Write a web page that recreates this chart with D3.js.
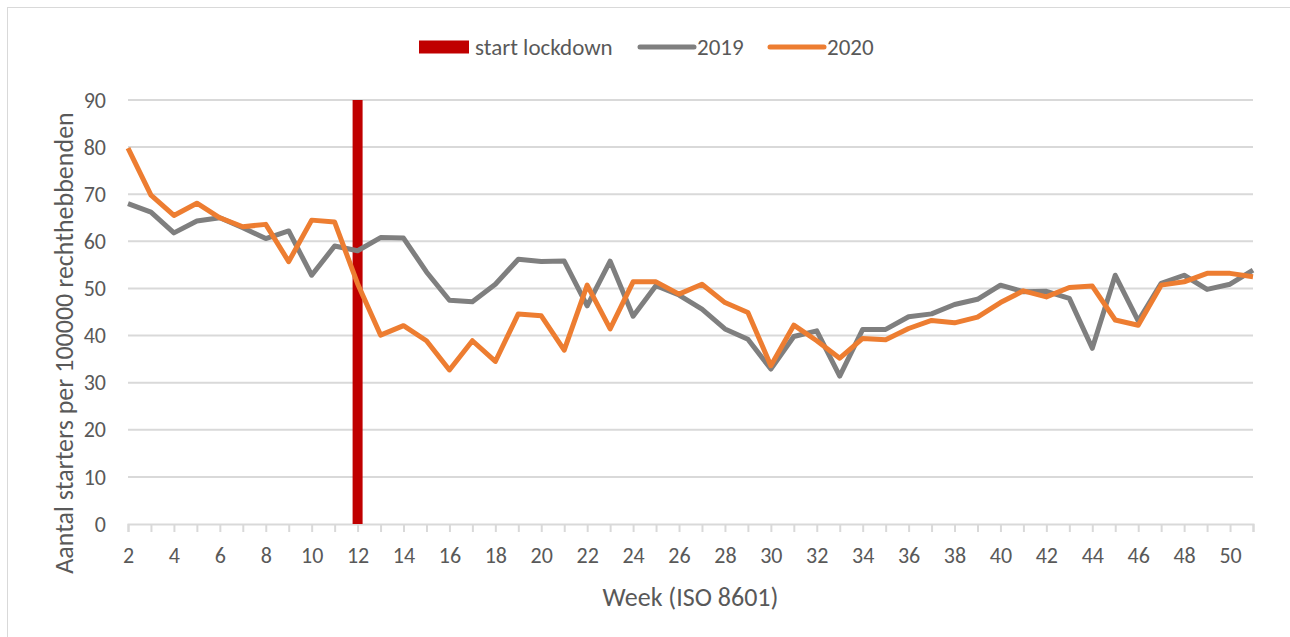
<!DOCTYPE html>
<html>
<head>
<meta charset="utf-8">
<script src="https://cdn.jsdelivr.net/npm/d3@7"></script>
<style>
  body { margin: 0; background: #fff; }
  text { font-family: Carlito, Lato, "Open Sans", sans-serif; fill: #595959; }
</style>
</head>
<body>
<script>
 // weeks (ISO 8601)
 const weeks = d3.range(2, 52)
 // starters per 100000 rechthebbenden
 const vals2019 = [68.0, 66.2, 61.8, 64.3, 65.0, 62.9, 60.6, 62.2, 52.8, 59.0,
                   58.0, 60.8, 60.7, 53.5, 47.5, 47.2, 50.9, 56.2, 55.7, 55.8,
                   46.3, 55.8, 44.1, 50.6, 48.6, 45.6, 41.4, 39.2, 32.9, 39.8,
                   41.0, 31.4, 41.3, 41.3, 44.0, 44.6, 46.6, 47.7, 50.7, 49.3,
                   49.4, 47.9, 37.3, 52.8, 43.1, 51.1, 52.8, 49.8, 50.9, 53.9]
 const vals2020 = [79.8, 69.8, 65.5, 68.1, 65.0, 63.1, 63.6, 55.7, 64.5, 64.1,
                   51.0, 40.1, 42.1, 38.9, 32.7, 38.9, 34.5, 44.6, 44.2, 36.9,
                   50.7, 41.4, 51.4, 51.4, 48.8, 50.9, 47.0, 44.9, 33.6, 42.2,
                   38.9, 35.2, 39.4, 39.1, 41.5, 43.2, 42.7, 43.9, 47.0, 49.5,
                   48.2, 50.2, 50.5, 43.3, 42.2, 50.7, 51.4, 53.2, 53.2, 52.5]
 const lockdownWeek = 12
 const yTicks = d3.range(0, 100, 10)
 const seriesNames = ['2019', '2020']
 const seriesColors = ['#7f7f7f', '#ed7d31']

 // constants
 const width = 1290;
 const height = 637;
 const margin = { top: 100, bottom: 113, left: 128, right: 37 };

 const svg = d3.select('body').append('svg')
       .attr('width', width).attr('height', height);

 // chart border
 svg.append('rect').attr('x', 7.5).attr('y', 7.5)
    .attr('width', width).attr('height', height)
    .attr('fill', 'none').attr('stroke', '#d9d9d9').attr('stroke-width', 1)

 const xScale = d3.scaleLinear().domain([2, 51]).range([margin.left, width - margin.right])
 const yScale = d3.scaleLinear().domain([0, 90]).range([height - margin.bottom, margin.top])

 // gridlines
 svg.append('g').selectAll('line').data(yTicks.slice(1)).enter().append('line')
    .attr('x1', margin.left).attr('x2', width - margin.right)
    .attr('y1', (d) => yScale(d)).attr('y2', (d) => yScale(d))
    .attr('stroke', '#d9d9d9').attr('stroke-width', 2)

 // y tick labels
 svg.append('g').selectAll('text').data(yTicks).enter().append('text')
    .attr('x', margin.left - 22).attr('y', (d) => yScale(d))
    .attr('dy', '0.35em').attr('text-anchor', 'end')
    .style('font-size', '22px').text((d) => d)

 // x axis
 const xAxis = svg.append('g')
    .attr('transform', `translate(0, ${yScale(0)})`)
    .call(d3.axisBottom(xScale).tickValues(weeks).tickSize(8)
         .tickFormat((d) => d % 2 == 0 ? d : ''))
 xAxis.select('.domain').attr('stroke', '#d9d9d9').attr('stroke-width', 2)
 xAxis.selectAll('.tick line').attr('stroke', '#d9d9d9').attr('stroke-width', 2)
 xAxis.selectAll('.tick text').attr('y', 23).attr('fill', '#595959')
      .style('font-size', '22px').style('font-family', 'Carlito, Lato, sans-serif')

 // lockdown bar
 const barW = 10
 svg.append('rect')
    .attr('x', xScale(lockdownWeek) - barW / 2).attr('y', yScale(90))
    .attr('width', barW).attr('height', yScale(0) - yScale(90))
    .attr('fill', '#c00000')

 // lines
 const line = d3.line().x((d, i) => xScale(weeks[i])).y((d) => yScale(d))
 const allVals = [vals2019, vals2020]
 allVals.forEach((vals, i) => {
    svg.append('path').datum(vals)
       .attr('d', line).attr('fill', 'none')
       .attr('stroke', seriesColors[i]).attr('stroke-width', 5)
       .attr('stroke-linejoin', 'round')
 })

 // axis titles
 svg.append('text')
    .attr('transform', `translate(73, ${(yScale(0) + yScale(90)) / 2 + 31}) rotate(-90)`)
    .attr('text-anchor', 'middle').style('font-size', '26px')
    .text('Aantal starters per 100000 rechthebbenden')
 svg.append('text')
    .attr('x', (xScale(2) + xScale(51)) / 2).attr('y', 606)
    .attr('text-anchor', 'middle').style('font-size', '26px')
    .text('Week (ISO 8601)')

 // legend
 const legend = svg.append('g').attr('transform', 'translate(419, 47)')
 legend.append('rect').attr('x', 0).attr('y', -6.5).attr('width', 50).attr('height', 13)
       .attr('fill', '#c00000')
 legend.append('text').attr('x', 56).attr('dy', '0.35em').style('font-size', '23px')
       .text('start lockdown')
 const lx = [221, 351]
 seriesNames.forEach((name, i) => {
    legend.append('line').attr('x1', lx[i]).attr('x2', lx[i] + 54)
          .attr('stroke', seriesColors[i]).attr('stroke-width', 5).attr('stroke-linecap', 'round')
    legend.append('text').attr('x', lx[i] + 57).attr('dy', '0.35em').style('font-size', '23px')
          .text(name)
 })
</script>
</body>
</html>
